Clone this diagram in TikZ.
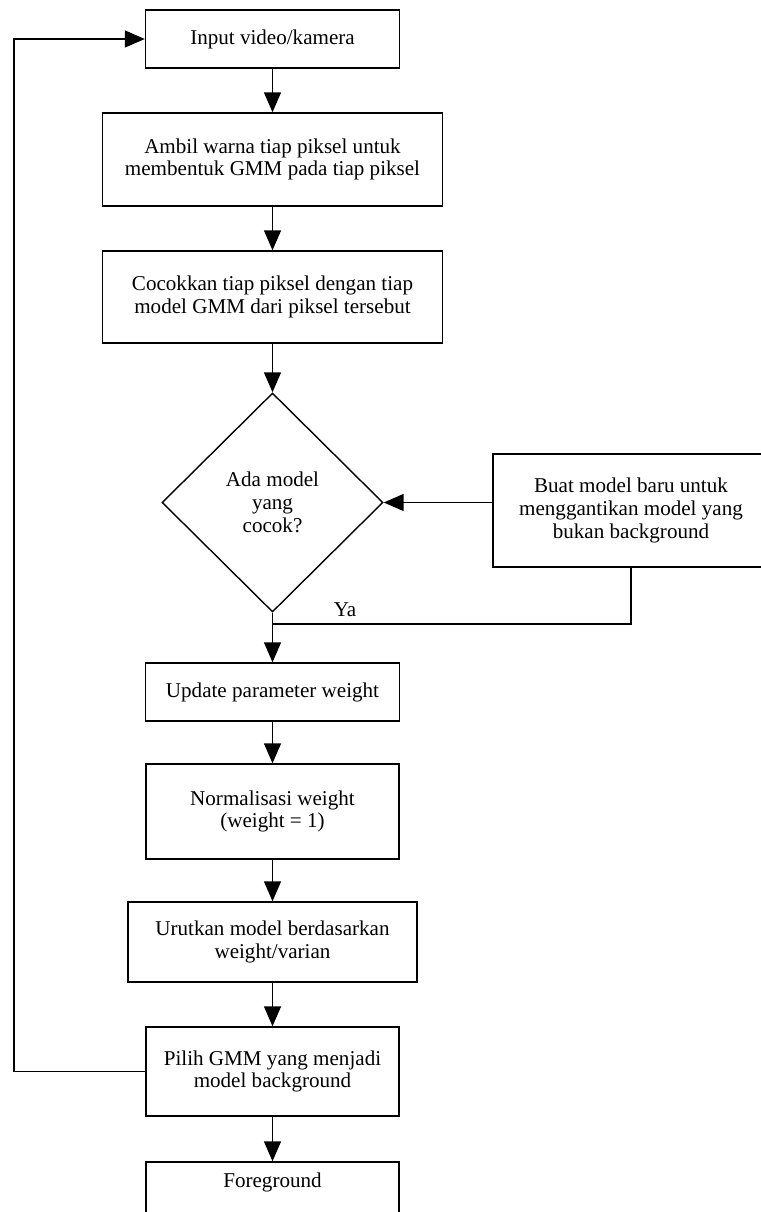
\documentclass[tikz,border=0pt]{standalone}
\usepackage{fontspec}
\setmainfont{Liberation Serif}
\usepackage{tikz}
\usetikzlibrary{shapes,arrows,positioning,calc,arrows.meta}

\begin{document}
\begin{tikzpicture}[x=0.02cm, y=-0.02cm, line width=0.8pt,
    txt/.style={font=\fontsize{12}{13}\selectfont, align=center},
    box/.style={txt, draw, rectangle, inner sep=2pt},
    dec/.style={txt, draw, diamond, inner sep=1pt},
    flow/.style={-{Triangle[length=0.4cm, width=0.34cm]}}]
    \useasboundingbox (0,0) rectangle (760,1212);

    % Main column
    \node[box, minimum width=5.08cm, minimum height=1.16cm] (in) at (272.5,39) {Input video/kamera};
    \node[box, minimum width=6.8cm, minimum height=1.86cm] (ambil) at (272.5,159.5) {Ambil warna tiap piksel untuk\\membentuk GMM pada tiap piksel};
    \node[box, minimum width=6.8cm, minimum height=1.84cm] (cocok) at (272.5,297) {Cocokkan tiap piksel dengan tiap\\model GMM dari piksel tersebut};
    \node[dec, minimum width=4.42cm, minimum height=4.38cm] (match) at (272.5,502.5) {Ada model\\yang\\cocok?};
    \node[box, minimum width=5.08cm, minimum height=1.16cm] (upd) at (272.5,692) {Update parameter weight};
    \node[box, minimum width=5.06cm, minimum height=1.9cm] (norm) at (272.5,811.5) {Normalisasi weight\\(weight = 1)};
    \node[box, minimum width=5.78cm, minimum height=1.6cm] (urut) at (272.5,942) {Urutkan model berdasarkan\\weight/varian};
    \node[box, minimum width=5.06cm, minimum height=1.78cm] (pilih) at (272.5,1071.5) {Pilih GMM yang menjadi\\model background};
    \node[draw, rectangle, minimum width=5.06cm, minimum height=1.6cm,
        label={[txt, anchor=north, yshift=-0.1cm]north:Foreground}] (fg) at (272.5,1202) {};

    % Replace branch
    \node[box, minimum width=5.52cm, minimum height=2.26cm] (buat) at (631,510.5) {Buat model baru untuk\\menggantikan model yang\\bukan background};
    \node[txt] (ya) at (345,610) {Ya};
    \coordinate (join) at (272.5,624);
    \coordinate (back) at (14,0);

    % Connectors
    \draw[flow] (in) -- (ambil);
    \draw[flow] (ambil) -- (cocok);
    \draw[flow] (cocok) -- (match);
    \draw[flow] (match.south) -- (upd.north);
    \draw[flow] (upd) -- (norm);
    \draw[flow] (norm) -- (urut);
    \draw[flow] (urut) -- (pilih);
    \draw[flow] (pilih) -- (fg);
    \draw[flow] (buat.west |- match.east) -- (match.east);
    \draw (buat.south) |- (join);
    \draw[flow] (pilih.west) -- (pilih.west -| back) |- (in.west); % loop back to input
\end{tikzpicture}
\end{document}
